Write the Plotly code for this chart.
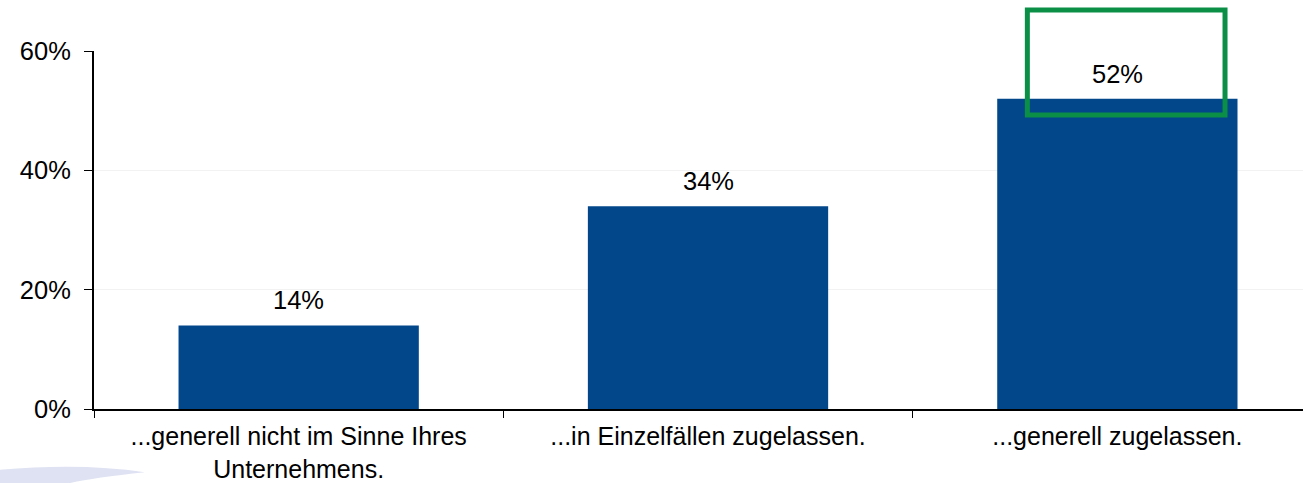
import plotly.graph_objects as go

categories = ["...generell nicht im Sinne Ihres<br>Unternehmens.",
              "...in Einzelfällen zugelassen.",
              "...generell zugelassen."]
values = [14, 34, 52]
labels = ["14%", "34%", "52%"]
y_ticks = [0, 20, 40, 60]
y_tick_labels = ["0%", "20%", "40%", "60%"]

FONT = "Arial, Liberation Sans, sans-serif"
BAR_COLOR = "#02478A"
TEXT_COLOR = "#000000"

fig = go.Figure()
fig.add_trace(go.Bar(
    x=categories, y=values,
    marker=dict(color=BAR_COLOR, line=dict(width=0)),
    hoverinfo="skip",
))

for c, v, t in zip(categories, values, labels):
    fig.add_annotation(x=c, y=v, text=t, showarrow=False, yanchor="bottom",
                       yshift=9, font=dict(family=FONT, size=25.5, color=TEXT_COLOR))

# highlight box around the last bar's value
fig.add_shape(type="rect", xref="paper", yref="paper",
              x0=0.772, x1=0.9355, y0=0.821, y1=1.1145,
              line=dict(color="#0B8F47", width=5), fillcolor="rgba(0,0,0,0)",
              layer="above")

# faint decorative swoosh at bottom-left
fig.add_shape(type="path", xref="paper", yref="paper",
              path="M -0.078,-0.207 L -0.078,-0.170 Q -0.01,-0.150 0.042,-0.177 "
                   "Q 0.0,-0.192 -0.02,-0.207 Z",
              fillcolor="#DFE2F2", line=dict(width=0), layer="below")

fig.update_layout(
    width=1303, height=483,
    margin=dict(l=94, r=0, t=51, b=74, autoexpand=False),
    paper_bgcolor="white", plot_bgcolor="white",
    bargap=0.413,
    showlegend=False,
    font=dict(family=FONT, size=26, color=TEXT_COLOR),
    xaxis=dict(
        type="category",
        range=[-0.5, 2.4535],
        automargin=False,
        showline=True, linecolor="black", linewidth=2,
        ticks="outside", tickson="boundaries", ticklen=7, tickcolor="black", tickwidth=1,
        showgrid=False,
        tickfont=dict(family=FONT, size=25, color=TEXT_COLOR),
        ticklabelstandoff=4,
        fixedrange=True,
    ),
    yaxis=dict(
        range=[0, 60],
        automargin=False,
        tickvals=y_ticks, ticktext=y_tick_labels,
        showline=True, linecolor="black", linewidth=2,
        ticks="outside", ticklen=8, tickcolor="black", tickwidth=1,
        showgrid=True, gridcolor="#F2F2F2", gridwidth=1,
        zeroline=False,
        tickfont=dict(family=FONT, size=25.5, color=TEXT_COLOR),
        ticklabelstandoff=8,
        fixedrange=True,
    ),
)

fig.write_html("out.html", config={"displayModeBar": False},
               post_script="document.body.style.margin='0';document.body.style.overflow='hidden';")
